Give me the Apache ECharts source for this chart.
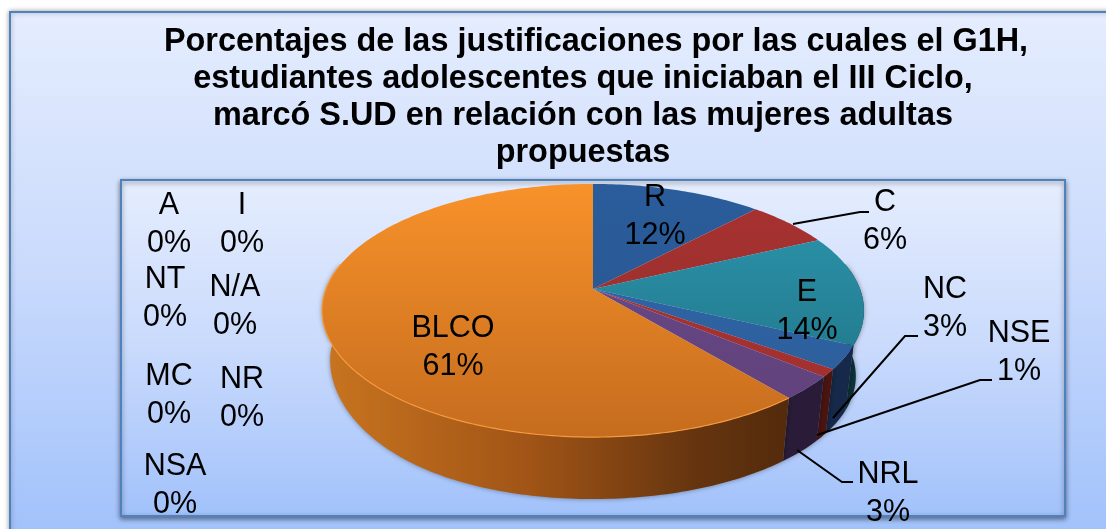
<!DOCTYPE html>
<html><head><meta charset="utf-8">
<style>html,body{margin:0;padding:0;background:#fff}#c{width:1106px;height:529px}</style>
<script src="https://cdn.jsdelivr.net/npm/echarts@6/dist/echarts.min.js"></script>
</head><body><div id="c"></div>
<script>
const titleFirstLine = 'Porcentajes de las justificaciones por las cuales el G1H,';
const titleOtherLines = 'estudiantes adolescentes que iniciaban el III Ciclo,\nmarcó S.UD en relación con las mujeres adultas\npropuestas';
const categories = ['R','C','E','NC','NSE','NRL','BLCO','A','I','NT','N/A','MC','NR','NSA'];
const percentages = [12,6,14,3,1,3,61,0,0,0,0,0,0,0];

// styling, per category (only non-zero slices are painted)
const topColors = [['#2b5c9b','#27578f'],['#a93230','#8f2f2d'],['#2c97b0','#1f6f80'],['#3468ad','#2a5c96'],['#ab3331','#a03030'],['#6c4a8a','#5f417a'],['#f8922a','#c56c1e']];
const wallColors = ['#1c3f66','#5a1a18','#0d3238','#16294a','#4a1410','#2a1c38'];
// label layout: centre x, first-line centre y
const labelPos = [[655,198],[885,203],[807,293],[945,290],[1019,334],[888,475],[453,329],[169,206],[242,206],[165,280],[235,288],[169,377],[242,380],[175,467]];
const LABEL_GAP = 37.5;
const leaders = {1:[[793,224],[860,212],[869,212]],3:[[833,418],[905,336],[918,336]],4:[[817,435],[980,380],[992,380]],5:[[797,450],[842,482],[853,482]]};

// perspective disc model
const apex = {x:593,y:289}, R = 267, A = 122.9, K = 0.17, DEPTH = 66.4, SHRINK = 0.97;
function rim(deg, low){
  const t = deg*Math.PI/180, u = Math.sin(t), v = Math.cos(t), w = 1+K*v;
  const s = low ? SHRINK : 1;
  const d = low ? DEPTH*(1-0.25*Math.pow(Math.max(0,-u),4)) : 0;
  return [apex.x + s*R*u/w, apex.y - s*A*v/w + d];
}
const total = percentages.reduce((a,b)=>a+b,0);
function sliceAngles(i){
  let sum = 0; for(let k=0;k<i;k++) sum += percentages[k];
  return [sum/total*360,(sum+percentages[i])/total*360];
}
function arc(a0,a1,low){
  const pts=[], n=Math.max(2,Math.ceil(Math.abs(a1-a0)));
  for(let j=0;j<=n;j++) pts.push(rim(a0+(a1-a0)*j/n,low));
  return pts;
}
const G = echarts.graphic.LinearGradient;
const panelGrad = (y0,y1)=>new G(0,y0,0,y1,[{offset:0,color:'#e5edfe'},{offset:.5,color:'#c9dafc'},{offset:1,color:'#a2c2fb'}],true);
const data = percentages.map(v=>[v]);
const titleStyle = {fontFamily:'Liberation Sans',fontWeight:'bold',fontSize:32.4,lineHeight:37,color:'#000'};

const option = {
  animation:false,
  title:[
    {text:titleFirstLine,left:591,top:19,textAlign:'center',textStyle:titleStyle},
    {text:titleOtherLines,left:578,top:56,textAlign:'center',textStyle:titleStyle}
  ],
  graphic:[
    {type:'rect',z:-2,shape:{x:10,y:12,width:1120,height:540},style:{fill:panelGrad(12,529),stroke:'#4f81bd',lineWidth:2,shadowBlur:5,shadowColor:'rgba(0,0,0,.35)'}},
    {type:'rect',z:-1,shape:{x:121,y:180,width:944,height:336},style:{fill:panelGrad(180,516),stroke:'#4f81bd',lineWidth:2,shadowBlur:5,shadowOffsetY:2,shadowColor:'rgba(0,0,0,.45)'}}
  ],
  series:[
    {type:'custom',coordinateSystem:'none',silent:true,z:2,data,
     renderItem(p,api){
       const i=p.dataIndex; if(!api.value(0)) return null;
       let [a0,a1]=sliceAngles(i);
       a0=Math.max(a0,78); a1=Math.min(a1,282);
       if(a1<=a0) return null;
       const pts=arc(a0,a1,false).concat(arc(a1,a0,true));
       const fill = i===6 ? new G(325,0,785,0,[{offset:0,color:'#c8741f'},{offset:.45,color:'#a05416'},{offset:.8,color:'#66350f'},{offset:1,color:'#542b0c'}],true) : wallColors[i];
       return {type:'polygon',shape:{points:pts},style:{fill,shadowBlur:5,shadowColor:'rgba(0,0,0,.4)'}};
     }},
    {type:'custom',coordinateSystem:'none',silent:true,z:3,data,
     renderItem(p,api){
       const i=p.dataIndex; if(!api.value(0)) return null;
       const [a0,a1]=sliceAngles(i);
       const pts=[[apex.x,apex.y]].concat(arc(a0,a1,false));
       const c=topColors[i];
       const children=[{type:'polygon',shape:{points:pts},style:{fill:new G(0,184,0,437,[{offset:0,color:c[0]},{offset:1,color:c[1]}],true)}}];
       if(i===6) children.push({type:'polyline',shape:{points:arc(a0,282,false)},style:{fill:'none',stroke:'#f59a3e',lineWidth:1.2}});
       return {type:'group',children};
     }},
    {type:'custom',coordinateSystem:'none',silent:true,z:4,data,
     renderItem(p,api){
       const i=p.dataIndex, [x,y]=labelPos[i], children=[];
       const font='30.5px "Liberation Sans"';
       children.push({type:'text',style:{text:categories[i],x,y,font,fill:'#000',align:'center',verticalAlign:'middle'}});
       children.push({type:'text',style:{text:api.value(0)+'%',x,y:y+LABEL_GAP,font,fill:'#000',align:'center',verticalAlign:'middle'}});
       if(leaders[i]) children.push({type:'polyline',shape:{points:leaders[i]},style:{fill:'none',stroke:'#000',lineWidth:2}});
       return {type:'group',children};
     }}
  ]
};
echarts.init(document.getElementById('c')).setOption(option);
</script></body></html>
